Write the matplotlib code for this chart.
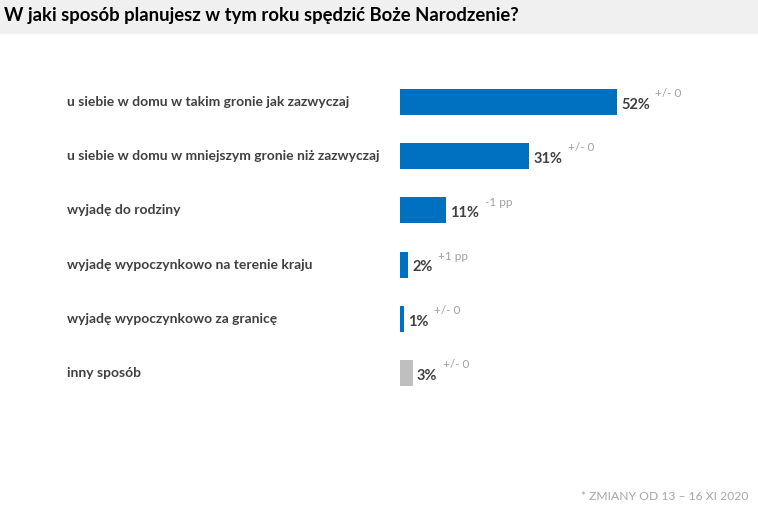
import matplotlib.pyplot as plt
import matplotlib.transforms as mtransforms
from matplotlib.patches import Rectangle

plt.rcParams['font.family'] = ['Lato', 'DejaVu Sans']

kategorie = [
    "u siebie w domu w takim gronie jak zazwyczaj",
    "u siebie w domu w mniejszym gronie niż zazwyczaj",
    "wyjadę do rodziny",
    "wyjadę wypoczynkowo na terenie kraju",
    "wyjadę wypoczynkowo za granicę",
    "inny sposób",
]
wartosci = [52, 31, 11, 2, 1, 3]
zmiany = ["+/- 0", "+/- 0", "-1 pp", "+1 pp", "+/- 0", "+/- 0"]
kolory = ["#0070C0"] * 5 + ["#BFBFBF"]

W, H = 758, 505
fig = plt.figure(figsize=(W / 100, H / 100), dpi=100)

# szary pasek z tytulem
fig.patches.append(Rectangle((0, 1 - 33 / H), 1, 33 / H, transform=fig.transFigure,
                             color="#F0F0F0", zorder=0))
fig.text(4 / W, 1 - 16 / H, "W jaki sposób planujesz w tym roku spędzić Boże Narodzenie?",
         fontsize=13.3, fontweight="bold", color="#000000", va="center", ha="left")

ax = fig.add_axes([400 / W, 105 / H, 358 / W, 325 / H])
ax.set_xlim(0, 358 / 4.17)
ax.set_ylim(5.5, -0.5)
ax.axis("off")

y = list(range(len(kategorie)))
ax.barh(y, wartosci, height=0.48, color=kolory)

trans = mtransforms.blended_transform_factory(fig.transFigure, ax.transData)
for i, (kat, w, z) in enumerate(zip(kategorie, wartosci, zmiany)):
    ax.text(67 / W, i, kat, transform=trans, ha="left", va="center",
            fontsize=10, fontweight="bold", color="#404040")
    lab = ax.annotate(f"{w}%", xy=(w, i), xytext=(3, -2), textcoords="offset points",
                      ha="left", va="center", fontsize=10.5, fontweight="bold", color="#404040")
    ax.annotate(z, xy=(1, 1), xycoords=lab, xytext=(4, -1), textcoords="offset points",
                ha="left", va="bottom", fontsize=8.5, color="#A0A0A0")

fig.text(748 / W, 1 - 496 / H, "* ZMIANY OD 13 – 16 XI 2020", fontsize=8.7,
         color="#A6A6A6", ha="right", va="center")

fig.savefig("out.png", dpi=100)
